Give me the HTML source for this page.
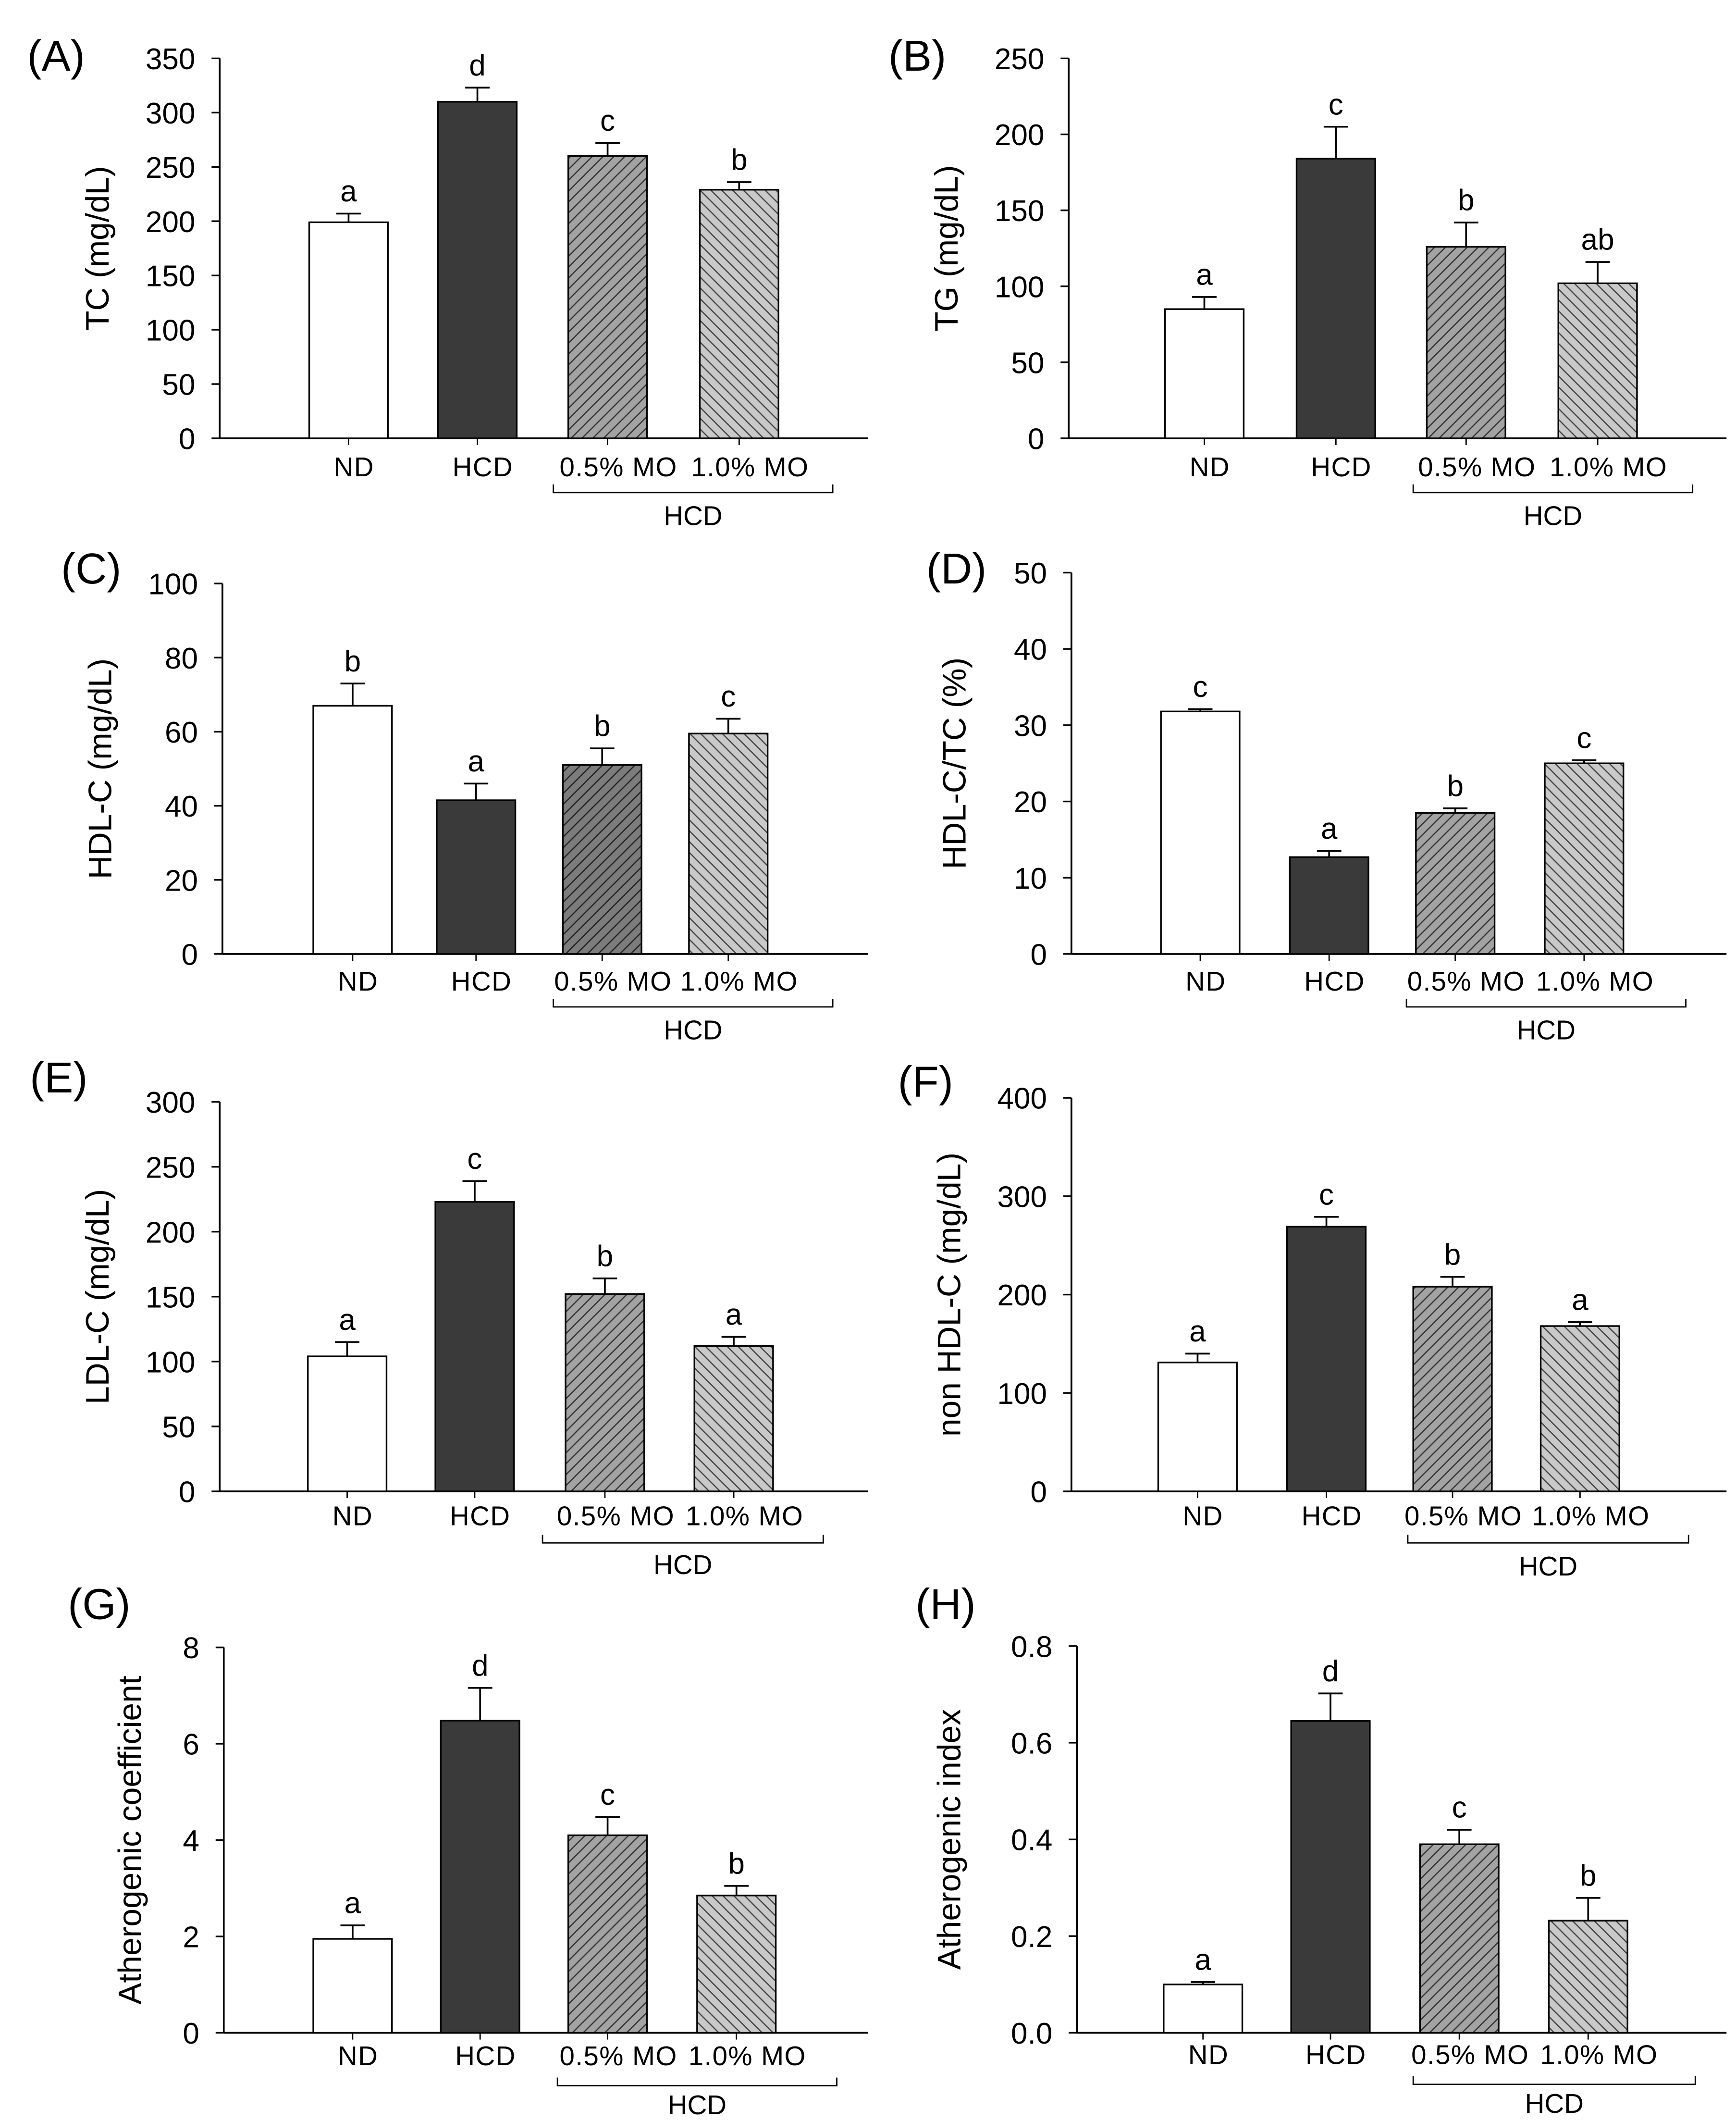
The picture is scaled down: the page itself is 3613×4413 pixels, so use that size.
<!DOCTYPE html>
<html><head><meta charset="utf-8"><style>html,body{margin:0;padding:0;background:#fff}svg{display:block}</style></head>
<body>
<svg id="fig" xmlns="http://www.w3.org/2000/svg" width="3613" height="4413" viewBox="0 0 1280 1563" preserveAspectRatio="none" font-family="Liberation Sans, Arial, sans-serif">
<defs>
<pattern id="hatch1" patternUnits="userSpaceOnUse" width="8" height="8"><rect width="8" height="8" fill="#a3a3a3"/><path d="M-2,10 L10,-2 M-2,2 L2,-2 M6,10 L10,6" stroke="#333" stroke-width="0.9"/></pattern>
<pattern id="hatch1d" patternUnits="userSpaceOnUse" width="8" height="8"><rect width="8" height="8" fill="#7c7c7c"/><path d="M-2,10 L10,-2 M-2,2 L2,-2 M6,10 L10,6" stroke="#222" stroke-width="0.9"/></pattern>
<pattern id="hatch2" patternUnits="userSpaceOnUse" width="8" height="8"><rect width="8" height="8" fill="#c9c9c9"/><path d="M-2,-2 L10,10 M6,-2 L10,2 M-2,6 L2,10" stroke="#444" stroke-width="0.9"/></pattern>
</defs>
</svg>
<script>
const categories = ["ND","HCD","0.5% MO","1.0% MO"];
const valuesA = [199,310,260,229]; const errA = [8,13,12,7]; const lettersA = ["a","d","c","b"];
const ticksA = [0,50,100,150,200,250,300,350];
const valuesB = [85,184,126,102]; const errB = [8,21,16,14]; const lettersB = ["a","c","b","ab"];
const ticksB = [0,50,100,150,200,250];
const valuesC = [67,41.5,51,59.5]; const errC = [6,4.5,4.5,4]; const lettersC = ["b","a","b","c"];
const ticksC = [0,20,40,60,80,100];
const valuesD = [31.8,12.7,18.5,25]; const errD = [0.3,0.8,0.6,0.4]; const lettersD = ["c","a","b","c"];
const ticksD = [0,10,20,30,40,50];
const valuesE = [104,223,152,112]; const errE = [11,16,12,7]; const lettersE = ["a","c","b","a"];
const ticksE = [0,50,100,150,200,250,300];
const valuesF = [131,269,208,168]; const errF = [9,10,10,4]; const lettersF = ["a","c","b","a"];
const ticksF = [0,100,200,300,400];
const valuesG = [1.95,6.48,4.1,2.85]; const errG = [0.28,0.68,0.38,0.2]; const lettersG = ["a","d","c","b"];
const ticksG = [0,2,4,6,8];
const valuesH = [0.1,0.645,0.39,0.232]; const errH = [0.005,0.057,0.03,0.047]; const lettersH = ["a","d","c","b"];
const ticksH = [0,0.2,0.4,0.6,0.8];

const NS="http://www.w3.org/2000/svg";
const svg=document.getElementById('fig');
function mk(tag,attrs,parent){const e=document.createElementNS(NS,tag);for(const k in attrs)e.setAttribute(k,attrs[k]);(parent||svg).appendChild(e);return e;}

const panels=[
 {id:"A",lab:"(A)",lx:20,ly:52,ax:162,top:43,bot:323,xend:640,cx:[257,352,448,545],vals:valuesA,err:errA,let:lettersA,ticks:ticksA,dec:0,ylab:"TC (mg/dL)",ylx:80,catY:351,br:[408,614],brY:363,hcdY:387,fills:["#fff","#3a3a3a","url(#hatch1)","url(#hatch2)"]},
 {id:"B",lab:"(B)",lx:655,ly:52,ax:788,top:43,bot:323,xend:1273,cx:[888,985,1081,1178],vals:valuesB,err:errB,let:lettersB,ticks:ticksB,dec:0,ylab:"TG (mg/dL)",ylx:706,catY:351,br:[1042,1248],brY:363,hcdY:387,fills:["#fff","#3a3a3a","url(#hatch1)","url(#hatch2)"]},
 {id:"C",lab:"(C)",lx:45,ly:430,ax:164,top:430,bot:703,xend:640,cx:[260,351,444,537],vals:valuesC,err:errC,let:lettersC,ticks:ticksC,dec:0,ylab:"HDL-C (mg/dL)",ylx:82,catY:730,br:[408,614],brY:742,hcdY:766,fills:["#fff","#3a3a3a","url(#hatch1d)","url(#hatch2)"]},
 {id:"D",lab:"(D)",lx:683,ly:430,ax:790,top:422,bot:703,xend:1273,cx:[885,980,1073,1168],vals:valuesD,err:errD,let:lettersD,ticks:ticksD,dec:0,ylab:"HDL-C/TC (%)",ylx:712,catY:730,br:[1037,1243],brY:742,hcdY:766,fills:["#fff","#3a3a3a","url(#hatch1)","url(#hatch2)"]},
 {id:"E",lab:"(E)",lx:22,ly:805,ax:162,top:812,bot:1099,xend:640,cx:[256,350,446,541],vals:valuesE,err:errE,let:lettersE,ticks:ticksE,dec:0,ylab:"LDL-C (mg/dL)",ylx:80,catY:1124,br:[400,607],brY:1137,hcdY:1160,fills:["#fff","#3a3a3a","url(#hatch1)","url(#hatch2)"]},
 {id:"F",lab:"(F)",lx:662,ly:808,ax:790,top:809,bot:1099,xend:1273,cx:[883,978,1071,1165],vals:valuesF,err:errF,let:lettersF,ticks:ticksF,dec:0,ylab:"non HDL-C (mg/dL)",ylx:708,catY:1124,br:[1038,1245],brY:1137,hcdY:1161,fills:["#fff","#3a3a3a","url(#hatch1)","url(#hatch2)"]},
 {id:"G",lab:"(G)",lx:50,ly:1193,ax:165,top:1214,bot:1498,xend:640,cx:[260,354,448,543],vals:valuesG,err:errG,let:lettersG,ticks:ticksG,dec:0,ylab:"Atherogenic coefficient",ylx:104,catY:1522,br:[411,617],brY:1537,hcdY:1558,fills:["#fff","#3a3a3a","url(#hatch1)","url(#hatch2)"]},
 {id:"H",lab:"(H)",lx:675,ly:1193,ax:794,top:1213,bot:1498,xend:1273,cx:[887,981,1076,1171],vals:valuesH,err:errH,let:lettersH,ticks:ticksH,dec:1,ylab:"Atherogenic index",ylx:708,catY:1521,br:[1042,1250],brY:1536,hcdY:1557,fills:["#fff","#3a3a3a","url(#hatch1)","url(#hatch2)"]}
];

panels.forEach(p=>{
 const g=mk('g',{});
 
 
 const tmax=p.ticks[p.ticks.length-1];
 const y=v=>p.bot-(v/tmax)*(p.bot-p.top);
 const t=mk('text',{x:p.lx,y:p.ly,'font-size':32},g);t.textContent=p.lab;
 
 const ya=mk('line',{x1:p.ax,y1:p.top,x2:p.ax,y2:p.bot,stroke:'#000','stroke-width':1.3},g);
 
 const xa=mk('line',{x1:p.ax,y1:p.bot,x2:p.xend,y2:p.bot,stroke:'#000','stroke-width':1.3},g);
 
 p.ticks.forEach(tv=>{
  mk('line',{x1:p.ax-6,y1:y(tv),x2:p.ax,y2:y(tv),stroke:'#000','stroke-width':1.2},g);
  const tl=mk('text',{x:p.ax-18,y:y(tv)+8,'font-size':22,'text-anchor':'end'},g);
  tl.textContent=tv.toFixed(p.dec);
  
 });
 const ym=(p.top+p.bot)/2;
 const yl=mk('text',{x:p.ylx,y:ym,'font-size':24,'text-anchor':'middle',transform:`rotate(-90 ${p.ylx} ${ym})`},g);
 yl.textContent=p.ylab;
 
 const bw=58;
 p.vals.forEach((v,i)=>{
  const cx=p.cx[i], top=y(v), et=y(v+p.err[i]);
  const r=mk('rect',{x:cx-bw/2,y:top,width:bw,height:p.bot-top,fill:p.fills[i],stroke:'#000','stroke-width':1.2},g);
  
  
  const e=mk('path',{d:`M${cx},${top} V${et} M${cx-9},${et} H${cx+9}`,stroke:'#000','stroke-width':1.3,fill:'none'},g);
  
  const l=mk('text',{x:cx,y:et-9,'font-size':22,'text-anchor':'middle'},g);l.textContent=p.let[i];
  
  mk('line',{x1:cx,y1:p.bot,x2:cx,y2:p.bot+5,stroke:'#000','stroke-width':1},g);
  const c=mk('text',{x:cx+(i>=2?8:4),y:p.catY,'font-size':20,'text-anchor':'middle','letter-spacing':0.5},g);c.textContent=categories[i];
  
 });
 const b=mk('path',{d:`M${p.br[0]},${p.brY-6} V${p.brY} H${p.br[1]} V${p.brY-6}`,stroke:'#000','stroke-width':1,fill:'none'},g);
 
 const h=mk('text',{x:(p.br[0]+p.br[1])/2,y:p.hcdY,'font-size':20,'text-anchor':'middle'},g);h.textContent='HCD';
 
});
</script>
</body></html>
